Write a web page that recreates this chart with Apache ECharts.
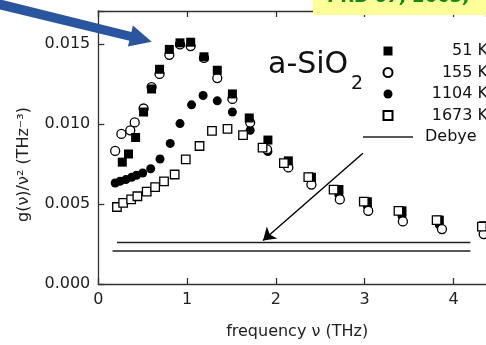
<!DOCTYPE html>
<html>
<head>
<meta charset="utf-8">
<script src="https://cdn.jsdelivr.net/npm/echarts@6/dist/echarts.min.js"></script>
<style>html,body{margin:0;padding:0;background:#fff}#c{width:486px;height:345px}</style>
</head>
<body>
<div id="c"></div>
<script>
// ---- data (g in units of 1e-3 THz^-3) ----
const nu51 = [0.27,0.34,0.42,0.51,0.60,0.69,0.80,0.92,1.04,1.19,1.34,1.51,1.70,1.91,2.14,2.40,2.71,3.03,3.42,3.84,4.34];
const g51  = [7.61,8.12,9.15,10.74,12.18,13.41,14.65,15.06,15.10,14.19,13.35,11.87,10.37,8.99,7.69,6.67,5.90,5.14,4.57,3.99,3.64];

const nu155 = [0.19,0.26,0.36,0.41,0.51,0.60,0.69,0.80,0.92,1.04,1.19,1.34,1.51,1.71,1.90,2.14,2.40,2.72,3.04,3.43,3.87,4.34];
const g155  = [8.31,9.37,9.60,10.09,10.96,12.30,13.12,14.31,14.96,14.86,14.12,12.86,11.56,10.08,8.41,7.28,6.21,5.28,4.57,3.91,3.43,3.12];

const nu1104 = [0.19,0.245,0.31,0.376,0.43,0.50,0.59,0.695,0.81,0.92,1.05,1.18,1.34,1.51,1.71,1.91,2.14,2.40,2.71,3.03,3.42,3.84,4.34];
const g1104  = [6.31,6.42,6.52,6.67,6.79,6.93,7.20,7.81,8.78,10.02,11.19,11.77,11.44,10.74,9.60,8.27,7.35,6.40,5.55,4.85,4.25,3.70,3.40];

const nu1673 = [0.21,0.28,0.37,0.44,0.545,0.64,0.74,0.86,0.985,1.14,1.28,1.455,1.63,1.85,2.09,2.365,2.65,2.99,3.38,3.81,4.32];
const g1673  = [4.81,5.07,5.28,5.48,5.77,6.05,6.41,6.84,7.78,8.62,9.56,9.69,9.30,8.52,7.55,6.67,5.90,5.14,4.57,3.99,3.58];

const debyeUpperNu = [0.21, 4.19];
const debyeUpperG  = [2.59, 2.59];
const debyeLowerNu = [0.16, 4.19];
const debyeLowerG  = [2.06, 2.06];

const xTicks = [0, 1, 2, 3, 4];
const yTicks = [0, 0.005, 0.010, 0.015];
const legendNames = ['51 K', '155 K', '1104 K', '1673 K', 'Debye'];

// ---- build ----
const zip = (a, b) => a.map((v, i) => [v, b[i] * 1e-3]);
const FONT = 'DejaVu Sans';
const AX = {color: '#333', width: 1.3};
const sqPath = 'path://M0,0H10V10H0Z';
const linePath = 'path://M0,0H50V1.5H0Z';

const chart = echarts.init(document.getElementById('c'), null, {renderer: 'canvas'});

chart.setOption({
  animation: false,
  backgroundColor: '#fff',
  grid: {left: 98.3, top: 11, right: 0, bottom: 57.7, containLabel: false},
  xAxis: [{
    type: 'value', position: 'bottom', min: 0, max: 4.366, interval: 1,
    axisLine: {show: true, lineStyle: AX},
    axisTick: {show: true, inside: true, length: 6, lineStyle: AX},
    splitLine: {show: false},
    axisLabel: {fontSize: 16, fontFamily: FONT, color: '#222', margin: 8, showMaxLabel: false,
      formatter: v => xTicks.indexOf(v) >= 0 ? String(v) : ''},
    name: 'frequency ν (THz)', nameLocation: 'middle', nameGap: 40,
    nameTextStyle: {fontSize: 16, fontFamily: FONT, color: '#222', padding: [0, 0, 0, 10]}
  }, {
    type: 'value', position: 'top', min: 0, max: 4.366, interval: 1,
    axisLine: {show: true, lineStyle: AX},
    axisTick: {show: true, inside: true, length: 6, lineStyle: AX},
    splitLine: {show: false},
    axisLabel: {show: false}
  }],
  yAxis: [{
    type: 'value', position: 'left', min: 0, max: 0.01705, interval: 0.005,
    axisLine: {show: true, lineStyle: AX},
    axisTick: {show: true, inside: true, length: 6, lineStyle: AX},
    splitLine: {show: false},
    axisLabel: {fontSize: 16, fontFamily: FONT, color: '#222', margin: 8,
      formatter: v => yTicks.some(t => Math.abs(t - v) < 1e-9) ? v.toFixed(3) : ''},
    name: 'g(ν)/ν² (THz⁻³)', nameLocation: 'middle', nameGap: 66,
    nameTextStyle: {fontSize: 16, fontFamily: FONT, color: '#222', padding: [0, 34, 0, 0]}
  }],
  legend: {
    orient: 'vertical', left: 363, top: 43, padding: 0,
    itemWidth: 50, itemHeight: 9, itemGap: 5.5, selectedMode: false,
    data: [
      {name: legendNames[0], icon: sqPath},
      {name: legendNames[1], icon: 'circle'},
      {name: legendNames[2], icon: 'circle'},
      {name: legendNames[3], icon: sqPath},
      {name: legendNames[4], icon: linePath, itemStyle: {color: '#222', borderWidth: 0}}
    ],
    formatter: n => n === 'Debye' ? '{d|' + n + '}' : '{a|' + n + '}',
    textStyle: {
      fontFamily: FONT, fontSize: 16,
      rich: {
        a: {width: 70, align: 'right', fontSize: 16, fontFamily: FONT, lineHeight: 20, color: '#111'},
        d: {fontSize: 16, fontFamily: FONT, lineHeight: 20, color: '#111', padding: [0, 0, 0, 7]}
      }
    }
  },
  series: [
    {
      name: 'Debye', type: 'line', symbol: 'none', data: zip(debyeUpperNu, debyeUpperG),
      lineStyle: {color: '#222', width: 1.6}, itemStyle: {color: '#222'}, z: 2,
      markLine: {
        silent: true, symbol: ['none', 'arrow'], symbolSize: 12,
        label: {show: false},
        lineStyle: {color: '#000', width: 1.4, type: 'solid'},
        data: [[{coord: [2.98, 0.00817]}, {coord: [1.855, 0.00272]}]]
      }
    },
    {
      name: 'Debye', type: 'line', symbol: 'none', data: zip(debyeLowerNu, debyeLowerG),
      lineStyle: {color: '#222', width: 1.6}, itemStyle: {color: '#222'}, z: 2
    },
    {
      name: '1104 K', type: 'scatter', symbol: 'circle', symbolSize: 9,
      data: zip(nu1104, g1104), itemStyle: {color: '#000', opacity: 1}, z: 3
    },
    {
      name: '155 K', type: 'scatter', symbol: 'circle', symbolSize: 9,
      data: zip(nu155, g155), itemStyle: {color: '#fff', borderColor: '#000', borderWidth: 1.3, opacity: 1}, z: 4
    },
    {
      name: '51 K', type: 'scatter', symbol: 'rect', symbolSize: 9,
      data: zip(nu51, g51), itemStyle: {color: '#000', opacity: 1}, z: 5
    },
    {
      name: '1673 K', type: 'scatter', symbol: 'rect', symbolSize: 8.5,
      data: zip(nu1673, g1673), itemStyle: {color: '#fff', borderColor: '#000', borderWidth: 1.3, opacity: 1}, z: 6
    }
  ],
  graphic: [
    {
      type: 'text', z: 50, style: {text: 'a-SiO', x: 268, y: 65, verticalAlign: 'middle',
        font: '30px "DejaVu Sans"', fill: '#111'}
    },
    {
      type: 'text', z: 50, style: {text: '2', x: 351, y: 84, verticalAlign: 'middle',
        font: '19px "DejaVu Sans"', fill: '#111'}
    },
    {
      type: 'rect', z: 60, shape: {x: 313, y: -1, width: 180, height: 16},
      style: {fill: '#ffff99'}
    },
    {
      type: 'text', z: 61, style: {text: 'PRB 67, 2003,', x: 328, y: 6, verticalAlign: 'bottom',
        font: 'italic bold 18px "DejaVu Sans"', fill: '#138a13'}
    },
    {
      type: 'polygon', z: 70,
      shape: {points: [[-4.0, -1.6], [131.4, 31.9], [132.9, 25.6], [151.7, 41.7], [127.9, 46.5], [129.4, 40.7], [-6.0, 8.0]]},
      style: {fill: '#2a56a0'}
    }
  ]
});
</script>
</body>
</html>
